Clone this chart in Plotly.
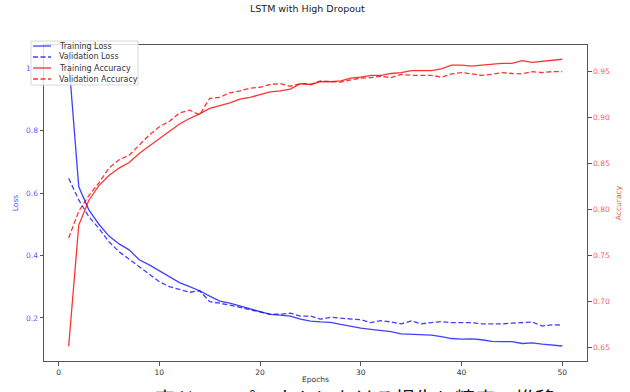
import plotly.graph_objects as go

epochs = list(range(1, 51))

train_loss = [1.028, 0.620, 0.546, 0.500, 0.462, 0.437, 0.418, 0.386, 0.370, 0.351,
              0.332, 0.313, 0.300, 0.287, 0.270, 0.254, 0.247, 0.238, 0.229, 0.220,
              0.211, 0.209, 0.206, 0.196, 0.190, 0.187, 0.186, 0.179, 0.172, 0.167,
              0.163, 0.159, 0.156, 0.149, 0.148, 0.147, 0.145, 0.140, 0.134, 0.132,
              0.133, 0.130, 0.125, 0.124, 0.124, 0.118, 0.120, 0.116, 0.113, 0.110]

val_loss = [0.647, 0.578, 0.524, 0.487, 0.444, 0.412, 0.388, 0.364, 0.338, 0.316,
            0.300, 0.290, 0.282, 0.287, 0.252, 0.247, 0.241, 0.234, 0.226, 0.220,
            0.212, 0.212, 0.215, 0.206, 0.206, 0.196, 0.202, 0.199, 0.196, 0.194,
            0.185, 0.191, 0.187, 0.181, 0.190, 0.181, 0.185, 0.188, 0.185, 0.185,
            0.185, 0.181, 0.180, 0.181, 0.183, 0.185, 0.187, 0.174, 0.178, 0.177]

train_acc = [0.651, 0.783, 0.810, 0.826, 0.837, 0.845, 0.851, 0.861, 0.869, 0.877,
             0.885, 0.893, 0.899, 0.904, 0.910, 0.913, 0.916, 0.920, 0.922, 0.925,
             0.928, 0.929, 0.931, 0.937, 0.936, 0.939, 0.939, 0.940, 0.943, 0.944,
             0.946, 0.946, 0.948, 0.949, 0.951, 0.951, 0.951, 0.953, 0.957, 0.957,
             0.956, 0.957, 0.958, 0.959, 0.959, 0.962, 0.960, 0.961, 0.962, 0.9635]

val_acc = [0.769, 0.798, 0.815, 0.829, 0.845, 0.854, 0.859, 0.870, 0.881, 0.890,
           0.896, 0.905, 0.908, 0.903, 0.921, 0.922, 0.927, 0.929, 0.932, 0.933,
           0.936, 0.937, 0.934, 0.937, 0.936, 0.940, 0.939, 0.9385, 0.941, 0.943,
           0.9435, 0.945, 0.9435, 0.947, 0.946, 0.946, 0.946, 0.944, 0.9475, 0.949,
           0.9475, 0.946, 0.947, 0.949, 0.948, 0.9475, 0.950, 0.949, 0.950, 0.950]

series_names = ["Training Loss", "Validation Loss", "Training Accuracy", "Validation Accuracy"]

x_ticks = [0, 10, 20, 30, 40, 50]
loss_ticks = [0.2, 0.4, 0.6, 0.8, 1.0]
acc_ticks = [0.65, 0.70, 0.75, 0.80, 0.85, 0.90, 0.95]

BLUE = "rgba(0,0,255,0.75)"
RED = "rgba(255,0,0,0.8)"
DASH = "5px,2.5px"
FONT = "DejaVu Sans"

styles = [(BLUE, "solid", "y"), (BLUE, DASH, "y"), (RED, "solid", "y2"), (RED, DASH, "y2")]
data = [train_loss, val_loss, train_acc, val_acc]

fig = go.Figure()
for name, vals, (col, dash, ax) in zip(series_names, data, styles):
    fig.add_trace(go.Scatter(x=epochs, y=vals, name=name, mode="lines",
                             line=dict(color=col, width=1.3, dash=dash), yaxis=ax))

# plot-area geometry (pixels) used to place the hand-drawn legend
L, R, T, B = 44, 587, 45, 361
W, H = R - L, B - T
def px(xp):
    return (xp - L) / W
def py(yp):
    return (B - yp) / H

shapes = [dict(type="rect", xref="paper", yref="paper", layer="above",
               x0=px(31), x1=px(138), y0=py(85), y1=py(41),
               fillcolor="rgba(255,255,255,0.8)", line=dict(color="#d8d8d8", width=1))]
annotations = []
for i, (name, (col, dash, ax)) in enumerate(zip(series_names, styles)):
    yy = 46 + 11 * i
    shapes.append(dict(type="line", xref="paper", yref="paper", layer="above",
                       x0=px(33), x1=px(51), y0=py(yy), y1=py(yy),
                       line=dict(color=col, width=1.3, dash=dash)))
    annotations.append(dict(text=name, xref="paper", yref="paper", x=px(57), y=py(yy),
                            xanchor="left", yanchor="middle", showarrow=False,
                            font=dict(size=8, color="#333", family=FONT)))

annotations.append(dict(text="LSTM with High Dropout", xref="paper", yref="paper",
                        x=px(307), y=py(8), xanchor="center", yanchor="middle",
                        showarrow=False, font=dict(size=9.5, color="#222", family=FONT)))
annotations.append(dict(text="LSTMの高ドロップアウトにおける損失と精度の推移", xref="paper", yref="paper",
                        x=px(320), y=py(382), xanchor="center", yanchor="top",
                        showarrow=False, font=dict(size=20, color="#111", family="Noto Sans CJK JP")))

fig.update_layout(
    width=630, height=392,
    margin=dict(l=L, r=630 - R, t=T, b=392 - B, autoexpand=False),
    paper_bgcolor="white", plot_bgcolor="white",
    font=dict(family=FONT, size=8, color="#333"),
    showlegend=False,
    xaxis=dict(range=[-1.45, 52.45], tickvals=x_ticks, showgrid=False, zeroline=False,
               showline=True, linecolor="#555", linewidth=1, mirror=True, automargin=False,
               ticks="outside", ticklen=3.5, tickcolor="#555",
               tickfont=dict(size=7.5, color="#333"),
               title=dict(text="Epochs", font=dict(size=7.5, color="#333"), standoff=1)),
    yaxis=dict(range=[0.062, 1.074], tickvals=loss_ticks,
               ticktext=[f"{v:.1f}" for v in loss_ticks], automargin=False,
               showgrid=False, zeroline=False, showline=True, linecolor="#555", linewidth=1,
               ticks="outside", ticklen=3.5, tickcolor="#555",
               tickfont=dict(size=7.5, color="rgba(0,0,255,0.7)"),
               title=dict(text="Loss", font=dict(size=7.5, color="rgba(0,0,255,0.7)"), standoff=6)),
    yaxis2=dict(range=[0.635, 0.979], tickvals=acc_ticks,
                ticktext=[f"{v:.2f}" for v in acc_ticks], automargin=False,
                overlaying="y", side="right",
                showgrid=False, zeroline=False, showline=True, linecolor="#555", linewidth=1,
                ticks="outside", ticklen=3.5, tickcolor="#555",
                tickfont=dict(size=7.5, color="rgba(255,0,0,0.7)"),
                title=dict(text="Accuracy", font=dict(size=7.5, color="rgba(255,0,0,0.7)"), standoff=6)),
    shapes=shapes,
    annotations=annotations,
)

fig.write_html("out.html", config={"displayModeBar": False},
               post_script="document.body.style.margin='0';document.body.style.overflow='hidden';")
